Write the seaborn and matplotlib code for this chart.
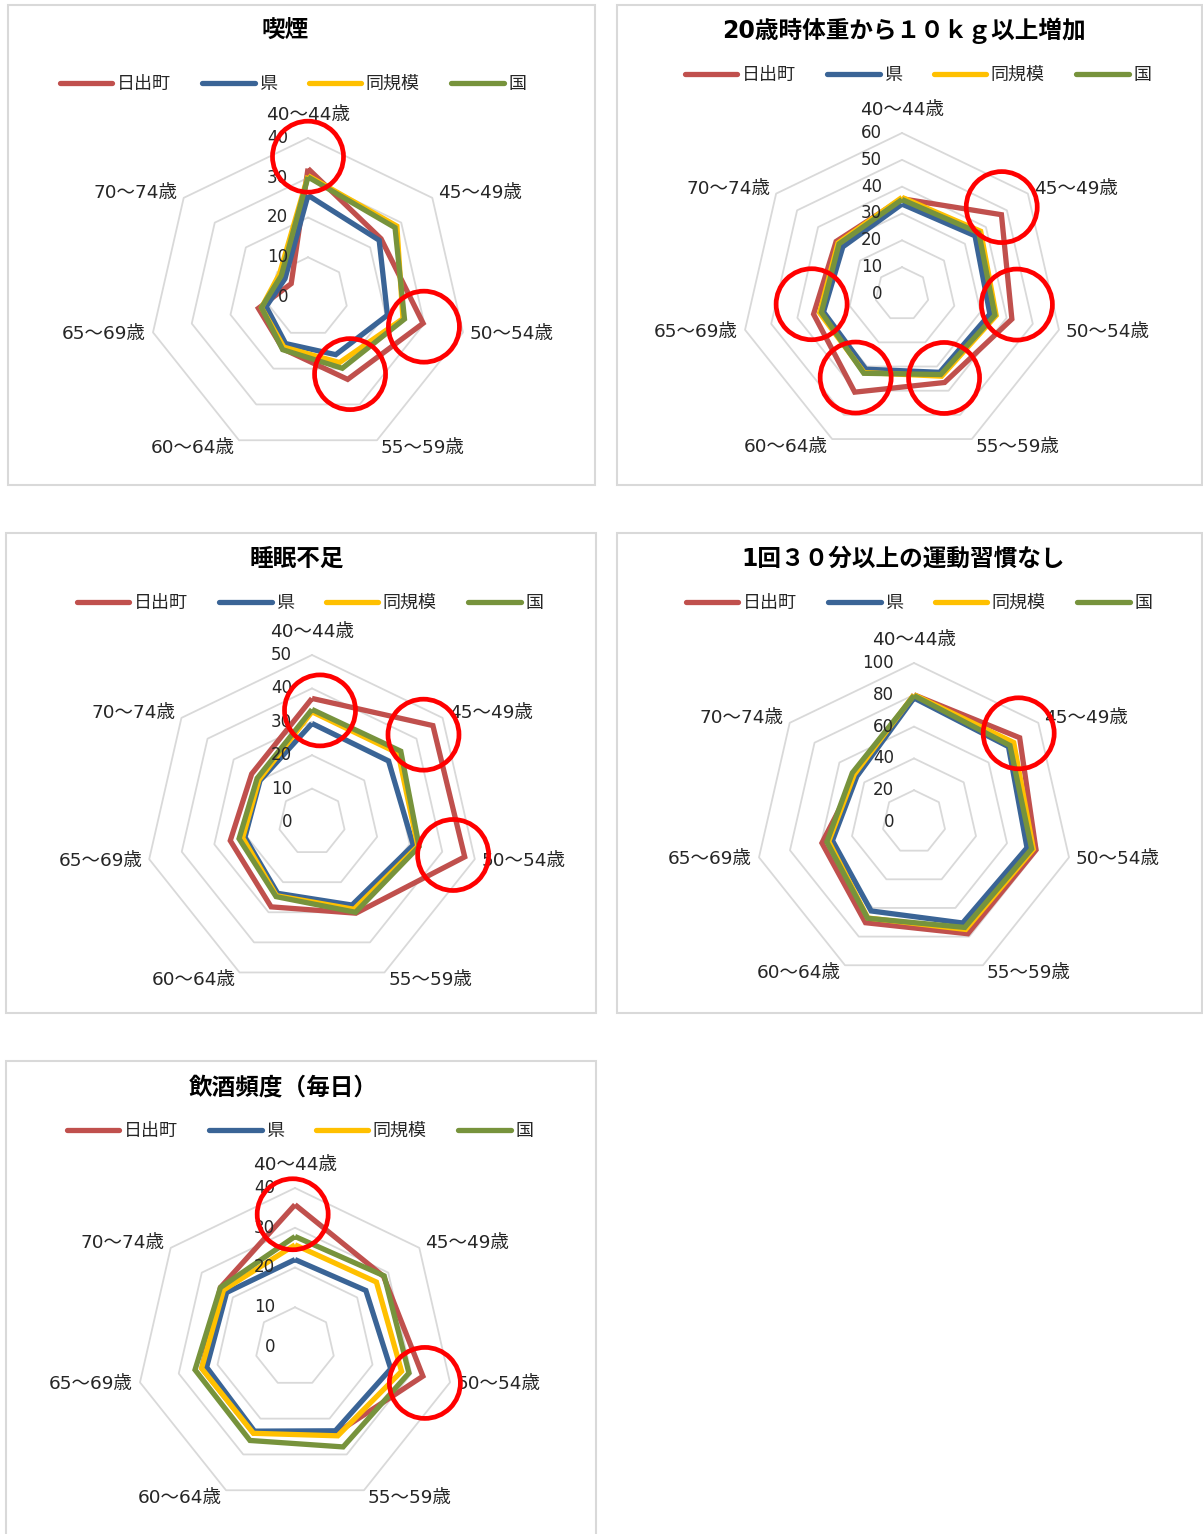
import numpy as np
import pandas as pd
import matplotlib
matplotlib.use("Agg")
import matplotlib.pyplot as plt
from matplotlib.lines import Line2D
from matplotlib.patches import Rectangle, Circle
import seaborn as sns

# ---------------------------------------------------------------- data
age_groups = ["40～44歳", "45～49歳", "50～54歳", "55～59歳",
              "60～64歳", "65～69歳", "70～74歳"]
regions = ["日出町", "県", "同規模", "国"]

# 喫煙 (%)
smoking_town = [32.3, 23.5, 29.7, 23.0, 14.5, 12.8, 5.4]
smoking_pref = [25.6, 22.9, 20.5, 16.1, 13.0, 10.8, 7.4]
smoking_peer = [30.5, 28.6, 24.5, 18.3, 14.0, 12.0, 9.2]
smoking_nat = [30.2, 28.0, 24.9, 19.9, 14.7, 12.0, 8.6]
smoking_ticks = [0, 10, 20, 30, 40]
smoking_marks = [("40～44歳", 35.3, 0.0), ("50～54歳", 30.1, 1.5), ("55～59歳", 22.1, -2.9)]

# 20歳時体重から10kg以上増加 (%)
weight_town = [35.5, 47.4, 42.0, 36.6, 40.6, 33.8, 31.4]
weight_pref = [33.5, 34.8, 33.6, 32.4, 31.1, 30.0, 28.2]
weight_peer = [36.0, 37.5, 36.0, 34.0, 32.5, 31.5, 30.5]
weight_nat = [35.2, 36.6, 35.5, 33.3, 32.8, 30.8, 30.0]
weight_ticks = [0, 10, 20, 30, 40, 50, 60]
weight_marks = [("45～49歳", 49.3, -2.5), ("50～54歳", 43.0, -7.6), ("55～59歳", 35.0, -0.9),
                ("60～64歳", 35.6, 3.3), ("65～69歳", 33.9, 6.4)]

# 睡眠不足 (%)
sleep_town = [37.0, 46.3, 46.9, 30.3, 28.2, 25.1, 23.1]
sleep_pref = [29.5, 29.3, 31.1, 27.6, 23.7, 20.6, 19.9]
sleep_peer = [33.0, 33.0, 32.5, 29.0, 24.5, 21.3, 20.3]
sleep_nat = [33.7, 34.0, 32.9, 30.0, 24.8, 22.4, 21.0]
sleep_ticks = [0, 10, 20, 30, 40, 50]
sleep_marks = [("40～44歳", 33.5, 4.1), ("45～49歳", 42.4, 0.5), ("50～54歳", 43.4, 0.3)]

# 1回30分以上の運動習慣なし (%)
exercise_town = [80.0, 85.0, 78.7, 78.0, 70.3, 59.4, 46.3]
exercise_pref = [78.0, 76.0, 72.9, 70.5, 62.1, 52.6, 46.0]
exercise_peer = [80.0, 80.2, 77.0, 75.0, 67.0, 55.0, 48.0]
exercise_nat = [79.5, 77.2, 75.9, 73.6, 67.2, 56.2, 49.6]
exercise_ticks = [0, 20, 40, 60, 80, 100]
exercise_marks = [("45～49歳", 86.3, -1.7)]

# 飲酒頻度（毎日）(%)
drinking_town = [35.8, 28.5, 33.0, 24.0, 24.0, 24.0, 24.0]
drinking_pref = [22.0, 22.8, 24.7, 23.4, 23.5, 22.8, 22.0]
drinking_peer = [25.7, 26.2, 27.5, 24.8, 24.1, 24.1, 23.0]
drinking_nat = [27.8, 28.7, 29.4, 27.9, 26.1, 25.8, 24.0]
drinking_ticks = [0, 10, 20, 30, 40]
drinking_marks = [("40～44歳", 33.4, -1.0), ("50～54歳", 33.9, 2.6)]

# ---------------------------------------------------------------- style
palette = ["#C0504D", "#3A6496", "#FFC000", "#77933C"]
grid_color = "#D9D9D9"

sns.set_theme(style="white")
# Latin glyphs from DejaVu Sans, Japanese glyphs from Noto Sans CJK JP
plt.rcParams["font.family"] = ["DejaVu Sans", "Noto Sans CJK JP"]

W, H = 1203, 1534
fig = plt.figure(figsize=(W / 100, H / 100), dpi=100)
fig.patch.set_facecolor("white")


def fx(px):
    return px / W


def fy(py):
    return 1 - py / H


panels = [
    dict(title="喫煙", series=[smoking_town, smoking_pref, smoking_peer, smoking_nat],
         ticks=smoking_ticks, marks=smoking_marks,
         center=(308, 297), radius=159, frame=(8, 5, 595, 485),
         title_xy=(285, 30), legend_xy=(293, 84)),
    dict(title="20歳時体重から１０ｋｇ以上増加",
         series=[weight_town, weight_pref, weight_peer, weight_nat],
         ticks=weight_ticks, marks=weight_marks,
         center=(902, 294), radius=161, frame=(617, 5, 1202, 485),
         title_xy=(904, 31), legend_xy=(918, 75)),
    dict(title="睡眠不足", series=[sleep_town, sleep_pref, sleep_peer, sleep_nat],
         ticks=sleep_ticks, marks=sleep_marks,
         center=(312, 822), radius=167, frame=(6, 533, 596, 1013),
         title_xy=(297, 559), legend_xy=(310, 603)),
    dict(title="1回３０分以上の運動習慣なし",
         series=[exercise_town, exercise_pref, exercise_peer, exercise_nat],
         ticks=exercise_ticks, marks=exercise_marks,
         center=(914, 822), radius=159, frame=(617, 533, 1202, 1013),
         title_xy=(903, 559), legend_xy=(919, 603)),
    dict(title="飲酒頻度（毎日）",
         series=[drinking_town, drinking_pref, drinking_peer, drinking_nat],
         ticks=drinking_ticks, marks=drinking_marks,
         center=(295, 1347), radius=159, frame=(6, 1061, 596, 1545),
         title_xy=(283, 1087), legend_xy=(300, 1131)),
]

n = len(age_groups)
theta = np.arange(n) * 2 * np.pi / n

# label offsets (pixels) and alignment per spoke
label_offsets = [(0, 23, "center"), (6, 5, "left"), (7, -2, "left"), (4, -8, "left"),
                 (-4, -8, "right"), (-7, -2, "right"), (-6, 5, "right")]

for p in panels:
    # chart frame
    x0, y0, x1, y1 = p["frame"]
    fig.add_artist(Rectangle((fx(x0), fy(y1)), fx(x1 - x0), (y1 - y0) / H,
                             transform=fig.transFigure, fill=False,
                             edgecolor=grid_color, lw=1.5, zorder=0))
    # title
    fig.text(fx(p["title_xy"][0]), fy(p["title_xy"][1]), p["title"],
             ha="center", va="center", fontsize=17, fontweight="bold", color="black")

    cx, cy = p["center"]
    R = p["radius"]
    half = 230
    ax = fig.add_axes([fx(cx - half), fy(cy + half), 2 * half / W, 2 * half / H])
    ax.set_facecolor("none")
    lim = half / R
    vmax = p["ticks"][-1]

    # heptagonal grid rings
    for t in p["ticks"][1:]:
        r = t / vmax
        xs = np.append(r * np.sin(theta), 0.0)
        ys = np.append(r * np.cos(theta), r)
        ax.plot(xs, ys, color=grid_color, lw=1.3, zorder=1)

    # series polygons (closed)
    rows = []
    for name, vals in zip(regions, p["series"]):
        for i in range(n + 1):
            k = i % n
            r = vals[k] / vmax
            rows.append({"地域": name, "x": r * np.sin(theta[k]), "y": r * np.cos(theta[k])})
    df = pd.DataFrame(rows)
    sns.lineplot(data=df, x="x", y="y", hue="地域", hue_order=regions, palette=palette,
                 sort=False, estimator=None, lw=3.8, legend=False, ax=ax, zorder=3,
                 solid_joinstyle="miter", solid_capstyle="butt")

    # radial value labels along the top spoke
    for t in p["ticks"]:
        ax.text(-20 / R, t / vmax, str(t), ha="right", va="center",
                fontsize=12, color="#262626", zorder=4)

    # category labels
    for k, lab in enumerate(age_groups):
        dx, dy, ha = label_offsets[k]
        ax.annotate(lab, (np.sin(theta[k]), np.cos(theta[k])),
                    xytext=(dx * 0.72, dy * 0.72), textcoords="offset points",
                    ha=ha, va="center", fontsize=13.3, color="#262626",
                    annotation_clip=False)

    # highlighted spots
    for lab, val, nudge in p["marks"]:
        k = age_groups.index(lab)
        ang = theta[k] + np.deg2rad(nudge)
        r = val / vmax
        ax.add_patch(Circle((r * np.sin(ang), r * np.cos(ang)), 35.5 / R, fill=False,
                            edgecolor="#FF0000", lw=3.4, zorder=6, clip_on=False))

    ax.set_xlim(-lim, lim)
    ax.set_ylim(-lim, lim)
    ax.axis("off")

    # legend
    handles = [Line2D([], [], color=c, lw=3.8, solid_capstyle="round") for c in palette]
    ax.legend(handles, regions, loc="center",
              bbox_to_anchor=(fx(p["legend_xy"][0]), fy(p["legend_xy"][1])),
              bbox_transform=fig.transFigure, ncol=4, frameon=False, fontsize=13,
              handlelength=2.9, handletextpad=0.25, columnspacing=1.75,
              borderaxespad=0, borderpad=0)

fig.savefig("out.png", dpi=100, facecolor="white")
